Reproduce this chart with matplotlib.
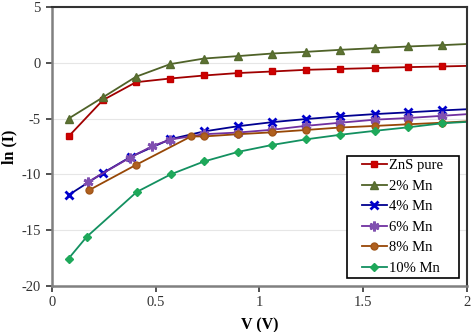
import matplotlib
matplotlib.use("Agg")
import matplotlib.pyplot as plt
from matplotlib.patches import Rectangle

plt.rcParams['font.family'] = ['Liberation Serif', 'DejaVu Serif']

# Voltage points (V) and ln(I) for each sample
v_pure = [0.08, 0.245, 0.405, 0.57, 0.733, 0.898, 1.062, 1.225, 1.39, 1.555, 1.718, 1.882, 2.045]
lnI_pure = [-6.6, -3.35, -1.74, -1.41, -1.14, -0.92, -0.78, -0.63, -0.55, -0.47, -0.39, -0.33, -0.26]

v_2 = [0.08, 0.245, 0.405, 0.57, 0.733, 0.898, 1.062, 1.225, 1.39, 1.555, 1.718, 1.882, 2.045]
lnI_2 = [-5.0, -3.1, -1.25, -0.12, 0.38, 0.6, 0.83, 0.98, 1.16, 1.31, 1.46, 1.58, 1.72]

v_4 = [0.08, 0.247, 0.38, 0.57, 0.733, 0.898, 1.062, 1.225, 1.39, 1.555, 1.718, 1.882, 2.045]
lnI_4 = [-11.85, -9.86, -8.42, -6.85, -6.15, -5.68, -5.32, -5.04, -4.8, -4.6, -4.44, -4.27, -4.12]

v_6 = [0.175, 0.376, 0.48, 0.57, 0.733, 0.898, 1.062, 1.225, 1.39, 1.555, 1.718, 1.882, 2.045]
lnI_6 = [-10.66, -8.5, -7.5, -6.88, -6.4, -6.25, -6.0, -5.65, -5.37, -5.1, -4.95, -4.75, -4.55]

v_8 = [0.18, 0.405, 0.67, 0.733, 0.898, 1.062, 1.225, 1.39, 1.555, 1.718, 1.882, 2.045]
lnI_8 = [-11.4, -9.15, -6.6, -6.6, -6.4, -6.23, -6.02, -5.8, -5.66, -5.51, -5.37, -5.2]

v_10 = [0.08, 0.167, 0.408, 0.572, 0.733, 0.898, 1.062, 1.225, 1.39, 1.555, 1.718, 1.882, 2.045]
lnI_10 = [-17.54, -15.6, -11.58, -10.0, -8.84, -7.98, -7.36, -6.86, -6.45, -6.1, -5.78, -5.42, -5.25]

labels = ["ZnS pure", "2% Mn", "4% Mn", "6% Mn", "8% Mn", "10% Mn"]


def plot_iv():
    fig = plt.figure(figsize=(4.74, 3.32), dpi=100)
    ax = fig.add_axes([0.1097, 0.1386, 0.8753, 0.8404])

    ax.plot(v_pure, lnI_pure, color='#A00000', lw=1.3, marker='s', ms=5,
            mfc='#D00000', mec='#C00000', label=labels[0])
    ax.plot(v_2, lnI_2, color='#4F6228', lw=1.3, marker='^', ms=6,
            mfc='#5E7332', mec='#556B2F', label=labels[1])
    ax.plot(v_4, lnI_4, color='#000090', lw=1.3, marker='x', ms=6, mew=2,
            mec='#0000CC', label=labels[2])
    ax.plot(v_6, lnI_6, color='#7030A0', lw=1.3, marker=(6, 2, 0), ms=7, mew=2,
            mec='#8050B0', label=labels[3])
    ax.plot(v_8, lnI_8, color='#974706', lw=1.3, marker='o', ms=5,
            mfc='#B0601E', mec='#A05518', label=labels[4])
    ax.plot(v_10, lnI_10, color='#139060', lw=1.3, marker='D', ms=4.5,
            mfc='#1EA85A', mec='#1EA85A', label=labels[5])

    ax.set_xlim(0, 2)
    ax.set_ylim(-20, 5)
    ax.set_xticks([0, 0.5, 1, 1.5, 2])
    ax.set_xticklabels(["0", "0.5", "1", "1.5", "2"])
    ax.set_yticks([5, 0, -5, -10, -15, -20])
    ax.set_yticklabels(["5", "0", "-5", "-10", "-15", "-20"])
    ax.tick_params(labelsize=10.5, colors='#333333', length=4, width=1.2)
    ax.tick_params(axis='x', pad=3)
    ax.tick_params(axis='y', pad=4)
    for t in ax.get_xticklines() + ax.get_yticklines():
        t.set_color('#808080')

    ax.yaxis.grid(True, color='#E6E6E6', lw=0.8)
    ax.set_axisbelow(True)

    ax.spines['left'].set_color('#808080')
    ax.spines['left'].set_linewidth(1.8)
    ax.spines['bottom'].set_color('#808080')
    ax.spines['bottom'].set_linewidth(1.8)
    ax.spines['top'].set_color('#333333')
    ax.spines['top'].set_linewidth(1.5)
    ax.spines['right'].set_color('#333333')
    ax.spines['right'].set_linewidth(1.5)

    ax.set_xlabel("V (V)", fontsize=11.5, fontweight='bold')
    ax.set_ylabel("ln (I)", fontsize=11.5, fontweight='bold')
    ax.xaxis.set_label_coords(0.5, -0.113)
    ax.yaxis.set_label_coords(-0.083, 0.5)

    # legend box drawn by hand so the entries sit centred inside it
    ax.add_patch(Rectangle((0.71, 0.028), 0.27, 0.438, transform=ax.transAxes,
                           facecolor='white', edgecolor='black', lw=1.2, zorder=5))
    leg = ax.legend(loc='center', bbox_to_anchor=(0.845, 0.247), fontsize=10.5,
                    frameon=False, handlelength=1.65, labelspacing=0.5,
                    borderpad=0.3, handletextpad=0.15, borderaxespad=0)
    leg.set_zorder(6)

    fig.savefig("out.png", dpi=100)
    plt.close(fig)


def main():
    plot_iv()


if __name__ == "__main__":
    main()
